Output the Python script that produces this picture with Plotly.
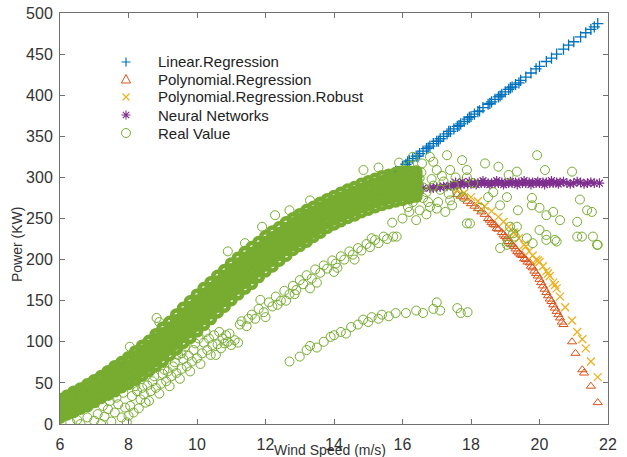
import plotly.graph_objects as go

# ---------------- data ----------------
# Main dense band of real values: column wind speeds and power values per column
band_cols = [6.0, 6.2, 6.4, 6.6, 6.8, 7.0, 7.2, 7.4, 7.6, 7.8, 8.0, 8.2, 8.4, 8.6, 8.8,
             9.0, 9.2, 9.4, 9.6, 9.8, 10.0, 10.2, 10.4, 10.6, 10.8, 11.0, 11.2, 11.4,
             11.6, 11.8, 12.0, 12.2, 12.4, 12.6, 12.8, 13.0, 13.2, 13.4, 13.6, 13.8,
             14.0, 14.2, 14.4, 14.6, 14.8, 15.0, 15.2, 15.4, 15.6, 15.8, 16.0, 16.2, 16.4]
band_vals = [
    [8, 12, 15, 19, 23, 26, 30], [12, 16, 19, 23, 27, 30, 34], [15, 19, 23, 27, 31, 35, 39],
    [19, 23, 27, 31, 35, 39, 43], [22, 26, 31, 35, 39, 44, 48], [27, 31, 36, 40, 44, 49, 53],
    [32, 36, 41, 45, 49, 54, 58], [36, 41, 45, 50, 55, 59, 64], [40, 45, 50, 55, 60, 65, 70],
    [45, 50, 55, 60, 65, 70, 75], [49, 54, 60, 65, 70, 76, 81], [54, 60, 65, 71, 77, 82, 88],
    [59, 65, 71, 77, 83, 89, 95], [65, 71, 77, 83, 89, 95, 101], [71, 77, 84, 90, 96, 103, 109],
    [77, 84, 90, 97, 104, 110, 117], [84, 91, 97, 104, 111, 117, 124], [91, 98, 105, 112, 119, 126, 133],
    [99, 106, 113, 120, 127, 134, 141], [105, 112, 120, 127, 134, 142, 149], [113, 120, 128, 135, 142, 150, 157],
    [121, 128, 136, 143, 150, 158, 165], [128, 135, 143, 150, 157, 165, 172], [136, 143, 151, 158, 165, 173, 180],
    [143, 150, 158, 165, 172, 180, 187], [151, 158, 166, 173, 180, 188, 195], [158, 165, 173, 180, 187, 195, 202],
    [165, 172, 180, 187, 194, 202, 209], [171, 178, 186, 193, 200, 208, 215], [179, 186, 193, 200, 207, 214, 221],
    [186, 193, 200, 207, 214, 221, 228], [192, 199, 206, 213, 220, 227, 234], [199, 206, 212, 219, 226, 232, 239],
    [205, 212, 218, 225, 232, 238, 245], [212, 218, 225, 231, 237, 244, 250], [217, 223, 230, 236, 242, 249, 255],
    [222, 228, 235, 241, 247, 254, 260], [228, 234, 240, 246, 252, 258, 264], [233, 239, 245, 251, 257, 263, 269],
    [239, 245, 250, 256, 262, 267, 273], [243, 249, 254, 260, 266, 271, 277], [247, 253, 258, 264, 270, 275, 281],
    [251, 257, 262, 268, 274, 279, 285], [254, 260, 265, 271, 277, 282, 288], [258, 264, 269, 275, 281, 286, 292],
    [261, 267, 272, 278, 284, 289, 295], [264, 270, 275, 281, 287, 292, 298], [267, 273, 278, 284, 290, 295, 301],
    [269, 275, 280, 286, 292, 297, 303], [271, 277, 282, 288, 294, 299, 305], [273, 279, 284, 290, 296, 301, 307],
    [275, 280, 286, 291, 296, 302, 307], [277, 282, 287, 292, 297, 302, 307],
]

# Lower cloud below the main band
low_x = [6.3, 6.5, 6.6, 6.8, 7.0, 7.1, 7.2, 7.3, 7.4, 7.5, 7.6, 7.7, 7.8, 7.9, 7.95,
         8.0, 8.05, 8.1, 8.3, 8.35, 8.4, 8.6, 8.65, 8.7, 8.9, 8.95, 9.0, 9.2, 9.25, 9.3,
         9.5, 9.55, 9.6, 9.8, 9.85, 9.9, 10.1, 10.15, 10.2, 10.4, 10.45, 10.5, 10.7, 10.75,
         10.9, 11.0, 11.1, 11.2, 8.15, 8.5, 8.8, 9.1, 9.4, 9.7, 10.0, 10.3, 10.6, 10.85,
         7.25, 7.65, 8.45, 9.05, 9.65, 10.25, 10.55,
         8.25, 8.55, 8.75, 9.15, 9.35, 9.45, 9.75, 9.95, 10.05, 10.35, 10.65, 10.95,
         7.45, 7.85, 8.2, 9.0, 9.55, 10.8]
low_y = [2, 5, 0, 8, 4, 12, 0, 9, 18, 3, 14, 24, 8, 20, 2,
         10, 22, 34, 19, 30, 44, 28, 40, 52, 37, 49, 61, 46, 58, 70,
         55, 67, 79, 64, 76, 90, 73, 86, 99, 84, 96, 108, 92, 104,
         100, 96, 102, 99, 14, 26, 44, 52, 62, 70, 80, 90, 97, 108,
         22, 32, 36, 66, 94, 112, 84,
         40, 47, 58, 64, 75, 84, 83, 98, 104, 104, 112, 110,
         28, 38, 46, 74, 86, 98]

# Outliers above the main band
up_x = [8.04, 8.82, 8.9, 10.9, 11.4, 11.9, 12.28, 12.7, 13.3, 14.86, 15.3, 15.9, 16.2]
up_y = [94, 129, 124, 210, 220, 240, 254, 260, 272, 309, 312, 318, 314]

# Second (middle) line of real values
mid_x = [11.25, 11.3, 11.45, 11.6, 11.7, 11.8, 11.95, 12.0, 12.1, 12.2, 12.3, 12.45, 12.55, 12.6,
         12.7, 12.8, 12.9, 13.0, 13.1, 13.2, 13.3, 13.35, 13.45, 13.6, 13.7, 13.8, 13.95, 14.0,
         14.05, 14.2, 14.3, 14.45, 14.55, 14.7, 14.8, 14.95, 15.05, 15.2, 15.3, 15.45, 15.55, 15.83,
         11.5, 11.85, 12.35, 12.85, 13.5, 14.1, 14.6, 15.1]
mid_y = [121, 125, 119, 133, 128, 140, 136, 130, 148, 143, 155, 150, 162, 150,
         158, 168, 163, 175, 170, 181, 165, 177, 188, 184, 193, 189, 199, 185,
         195, 204, 200, 210, 206, 214, 211, 219, 215, 224, 220, 228, 225, 228,
         128, 151, 145, 158, 172, 190, 200, 226]

# Third (lowest) line of real values
low3_x = [12.7, 13.0, 13.2, 13.3, 13.5, 13.7, 13.9, 14.0, 14.2, 14.35, 14.5, 14.7, 14.85, 15.0,
          15.1, 15.3, 15.4, 15.6, 15.8, 16.1, 16.4, 16.6, 16.9, 17.0, 17.1, 17.6, 17.7, 17.9]
low3_y = [76, 82, 90, 95, 93, 100, 106, 108, 112, 110, 118, 121, 127, 124,
          130, 128, 133, 131, 135, 135, 138, 135, 140, 148, 138, 141, 135, 136]

# Scattered real values at high wind speed
hi_x = [19.93, 18.41, 17.3, 17.74, 19.34, 20.16, 20.95, 19.1, 21.18, 21.39, 21.53, 21.1, 21.24,
        21.68, 21.56, 19.78, 19.78, 20.0, 20.6, 20.4, 20.2, 19.05, 19.37, 17.88, 18.26, 18.5,
        18.65, 18.85, 19.14, 19.63, 20.0, 20.2, 20.45, 19.05, 19.28, 19.8, 15.73, 16.3, 16.16,
        16.8, 17.04, 17.39, 17.77, 17.6, 17.88, 18.06, 17.39, 17.0, 16.9, 16.57, 16.3, 16.8,
        17.88, 18.8, 16.6, 16.5, 18.85, 19.23, 20.2, 20.5, 21.1, 21.7, 17.97, 19.08, 19.34,
        16.6, 16.7, 16.9, 17.1, 17.2, 16.5, 16.7, 17.0, 17.5, 17.45, 16.4, 16.0, 15.7, 16.2,
        16.55, 16.85, 17.15, 17.35, 16.45, 16.75, 17.25, 17.55]
hi_y = [327, 317, 327, 321, 307, 309, 307, 303, 273, 260, 258, 246, 228,
        218, 228, 275, 266, 263, 248, 258, 254, 276, 260, 244, 263, 276,
        282, 266, 240, 226, 236, 224, 224, 218, 228, 220, 228, 270, 264,
        264, 270, 272, 276, 282, 300, 293, 309, 309, 319, 317, 325, 325,
        309, 313, 288, 299, 214, 232, 230, 222, 228, 218, 244, 222, 240,
        275, 282, 290, 285, 295, 260, 255, 262, 290, 266, 248, 250, 245, 258,
        306, 298, 302, 280, 284, 270, 258, 300]

# Linear regression predictions
lin_x = [15.6, 15.8, 16.0, 16.1, 16.2, 16.3, 16.4, 16.5, 16.6, 16.7, 16.8, 16.9, 17.0, 17.1,
         17.2, 17.3, 17.4, 17.5, 17.6, 17.7, 17.8, 17.9, 18.0, 18.1, 18.2, 18.35, 18.5, 18.6,
         18.7, 18.8, 18.9, 19.0, 19.1, 19.2, 19.3, 19.45, 19.6, 19.75, 19.9, 20.0, 20.2, 20.35,
         20.5, 20.7, 20.85, 21.0, 21.2, 21.35, 21.5, 21.6, 21.7,
         16.15, 16.45, 16.75, 17.05, 17.35, 17.65, 17.95, 18.25, 18.55, 18.85, 19.15, 19.4]
lin_y = [301, 307, 313, 316, 320, 323, 326, 329, 332, 335, 338, 341, 344, 347,
         350, 353, 356, 359, 362, 365, 368, 371, 374, 377, 380, 385, 389, 392,
         395, 398, 401, 404, 407, 410, 413, 418, 422, 427, 432, 435, 441, 445,
         450, 456, 461, 465, 471, 476, 480, 483, 487,
         319, 326, 336, 344, 356, 363, 373, 381, 390, 399, 409, 415]

# Polynomial regression predictions
poly_x = [17.6, 17.7, 17.8, 17.9, 18.0, 18.1, 18.2, 18.3, 18.4, 18.5, 18.55, 18.6, 18.7, 18.8,
          18.9, 19.0, 19.05, 19.1, 19.2, 19.3, 19.35, 19.4, 19.5, 19.6, 19.65, 19.72, 19.8,
          19.85, 19.9, 20.0, 20.05, 20.1, 20.15, 20.2, 20.25, 20.3, 20.35, 20.4, 20.45, 20.5,
          20.55, 20.6, 20.7, 20.95, 21.05, 21.25, 21.3, 21.5, 21.7,
          18.65, 18.75, 18.95, 19.15, 19.25, 19.45, 19.55, 19.75, 19.95, 20.65]
poly_y = [279, 277, 275, 271, 268, 265, 262, 258, 255, 250, 248, 245, 242, 237,
          233, 228, 226, 222, 218, 213, 210, 208, 205, 200, 197, 196, 190,
          186, 183, 176, 172, 168, 164, 160, 156, 152, 149, 145, 141, 137,
          133, 129, 121, 100, 86, 66, 62, 46, 26,
          243, 238, 230, 219, 216, 206, 201, 192, 180, 124]

# Robust polynomial regression predictions
rob_x = [17.6, 17.8, 18.0, 18.2, 18.4, 18.6, 18.8, 18.95, 19.1, 19.25, 19.4, 19.55, 19.7, 19.8,
         19.9, 20.0, 20.1, 20.2, 20.3, 20.4, 20.5, 20.6, 20.75, 20.95, 21.1, 21.25, 21.35,
         21.5, 21.7, 19.3, 19.6, 19.95, 20.25, 20.45]
rob_y = [285, 281, 276, 271, 265, 259, 252, 246, 240, 233, 226, 218, 210, 205,
         200, 197, 192, 186, 180, 172, 165, 155, 142, 126, 112, 103, 92,
         76, 57, 231, 216, 199, 183, 169]

# Neural network predictions
nn_x = [15.6, 15.8, 16.0, 16.2, 16.4, 16.6, 16.8, 16.9, 17.0, 17.1, 17.2, 17.3, 17.4, 17.5,
        17.6, 17.7, 17.8, 17.9, 18.0, 18.1, 18.2, 18.3, 18.4, 18.5, 18.6, 18.7, 18.8, 18.9,
        19.0, 19.1, 19.2, 19.3, 19.4, 19.5, 19.6, 19.7, 19.8, 19.9, 20.0, 20.1, 20.2, 20.3,
        20.4, 20.5, 20.6, 20.8, 21.0, 21.2, 21.4, 21.6, 21.75,
        17.55, 17.75, 17.95, 18.15, 18.35, 18.55, 18.75, 18.95, 19.15, 19.35, 19.55, 19.75,
        19.95, 20.15, 20.35, 20.55, 20.7, 20.9, 21.1, 21.3, 21.5]
nn_y = [282, 284, 285, 286, 286, 287, 287, 287, 288, 288, 289, 289, 290, 290,
        291, 291, 292, 292, 292, 293, 293, 293, 293, 293, 293, 293, 293, 294,
        293, 293, 293, 294, 294, 293, 293, 294, 294, 293, 293, 294, 294, 293,
        293, 294, 294, 293, 293, 294, 293, 293, 293,
        294, 295, 295, 291, 296, 291, 296, 291, 295, 291, 296, 291,
        295, 291, 296, 292, 295, 292, 295, 292, 294]

legend_labels = ["Linear.Regression", "Polynomial.Regression", "Polynomial.Regression.Robust",
                 "Neural Networks", "Real Value"]

# ---------------- styling ----------------
C_BLUE = "#0072BD"
C_ORANGE = "#D95319"
C_YELLOW = "#EDB120"
C_PURPLE = "#7E2F8E"
C_GREEN = "#77AC30"
FONT = "Liberation Sans, Arial, sans-serif"

band_x, band_y = [], []
for xc, vals in zip(band_cols, band_vals):
    for v in vals:
        band_x.append(xc)
        band_y.append(v)

real_x = low_x + up_x + mid_x + low3_x + hi_x
real_y = low_y + up_y + mid_y + low3_y + hi_y

fig = go.Figure()
fig.add_trace(go.Scatter(x=lin_x, y=lin_y, mode="markers", name=legend_labels[0],
                         marker=dict(symbol="cross-thin-open", size=8, color=C_BLUE,
                                     line=dict(width=1.3, color=C_BLUE))))
fig.add_trace(go.Scatter(x=poly_x, y=poly_y, mode="markers", name=legend_labels[1],
                         marker=dict(symbol="triangle-up-open", size=8, color=C_ORANGE,
                                     line=dict(width=1, color=C_ORANGE))))
fig.add_trace(go.Scatter(x=rob_x, y=rob_y, mode="markers", name=legend_labels[2],
                         marker=dict(symbol="x-thin-open", size=8, color=C_YELLOW,
                                     line=dict(width=1.3, color=C_YELLOW))))
fig.add_trace(go.Scatter(x=nn_x, y=nn_y, mode="markers", name=legend_labels[3],
                         marker=dict(symbol="asterisk-open", size=8, color=C_PURPLE,
                                     line=dict(width=1.2, color=C_PURPLE))))
fig.add_trace(go.Scatter(x=band_x, y=band_y, mode="markers", name=legend_labels[4],
                         marker=dict(symbol="circle-open", size=8.5, color=C_GREEN,
                                     line=dict(width=4.5, color=C_GREEN))))
fig.add_trace(go.Scatter(x=real_x, y=real_y, mode="markers", name=legend_labels[4],
                         marker=dict(symbol="circle-open", size=9, color=C_GREEN,
                                     line=dict(width=1, color=C_GREEN))))

# legend drawn as symbols + text (MATLAB-style compact rows)
x0_px, x1_px, y0_px, y1_px = 60, 608, 13, 424
def px_x(p):
    return (p - x0_px) / (x1_px - x0_px)
def px_y(p):
    return (y1_px - p) / (y1_px - y0_px)

row_py = [62, 79.5, 97, 115, 133]
sym_x = px_x(126)
txt_x = px_x(156)
shapes = []
paths = [
    ("M -4.5 0 L 4.5 0 M 0 -4.5 L 0 4.5", C_BLUE, 1.2),
    ("M 0 5 L 4.6 -3.5 L -4.6 -3.5 Z", C_ORANGE, 1.0),
    ("M -3.5 -3.5 L 3.5 3.5 M -3.5 3.5 L 3.5 -3.5", C_YELLOW, 1.2),
    ("M -4.5 0 L 4.5 0 M 0 -4.5 L 0 4.5 M -3.2 -3.2 L 3.2 3.2 M -3.2 3.2 L 3.2 -3.2", C_PURPLE, 1.1),
]
for (path, col, lw), py in zip(paths, row_py[:4]):
    shapes.append(dict(type="path", xref="paper", yref="paper", xsizemode="pixel",
                       ysizemode="pixel", xanchor=sym_x, yanchor=px_y(py), path=path,
                       line=dict(color=col, width=lw)))
shapes.append(dict(type="circle", xref="paper", yref="paper", xsizemode="pixel",
                   ysizemode="pixel", xanchor=sym_x, yanchor=px_y(row_py[4]),
                   x0=-4.5, x1=4.5, y0=-4.5, y1=4.5, line=dict(color=C_GREEN, width=1)))

annotations = []
for lab, py in zip(legend_labels, row_py):
    annotations.append(dict(text=lab, x=txt_x, y=px_y(py), xref="paper", yref="paper",
                            xanchor="left", yanchor="middle", showarrow=False,
                            font=dict(family=FONT, size=15, color="#222222")))
annotations.append(dict(text="Power (KW)", textangle=-90, x=px_x(17), y=px_y(245),
                        xref="paper", yref="paper", showarrow=False,
                        xanchor="center", yanchor="middle",
                        font=dict(family=FONT, size=14, color="#333333")))
annotations.append(dict(text="Wind Speed (m/s)", x=px_x(330), y=px_y(450),
                        xref="paper", yref="paper", showarrow=False,
                        xanchor="center", yanchor="middle",
                        font=dict(family=FONT, size=14, color="#333333")))

axis_common = dict(showgrid=False, zeroline=False, showline=True, linecolor="#707070",
                   linewidth=1, mirror="ticks", ticks="inside", ticklen=5,
                   tickcolor="#707070", tickfont=dict(family=FONT, size=16, color="#333333"),
                   automargin=False)

fig.update_layout(
    width=627, height=457,
    margin=dict(l=60, r=19, t=13, b=33),
    paper_bgcolor="white", plot_bgcolor="white",
    font=dict(family=FONT, color="#333333"),
    showlegend=False,
    xaxis=dict(range=[6, 22], tickmode="linear", tick0=6, dtick=2, ticklabelstandoff=6,
               **axis_common),
    yaxis=dict(range=[0, 500], tickmode="linear", tick0=0, dtick=50, ticklabelstandoff=3,
               **axis_common),
    shapes=shapes,
    annotations=annotations,
)

fig.write_html("out.html", config={"displayModeBar": False},
               post_script="document.body.style.margin='0';document.body.style.overflow='hidden';")
